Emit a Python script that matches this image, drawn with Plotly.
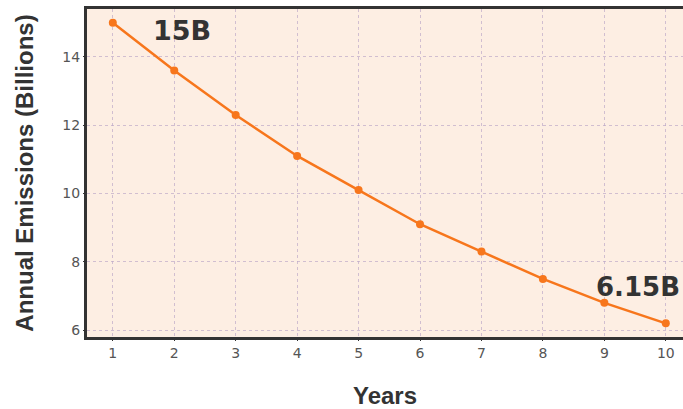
import plotly.graph_objects as go

years = [1, 2, 3, 4, 5, 6, 7, 8, 9, 10]
emissions = [15.0, 13.6, 12.3, 11.1, 10.1, 9.1, 8.3, 7.5, 6.8, 6.2]
x_ticks = [1, 2, 3, 4, 5, 6, 7, 8, 9, 10]
y_ticks = [6, 8, 10, 12, 14]

ORANGE = "#f7761c"
DARK = "#333333"

fig = go.Figure()
fig.add_trace(go.Scatter(
    x=years, y=emissions, mode="lines+markers",
    line=dict(color=ORANGE, width=2.5),
    marker=dict(color=ORANGE, size=8),
    showlegend=False,
))

# value callouts near first and last points
fig.add_annotation(x=years[0], y=emissions[0], text="<b>15B</b>", showarrow=False,
                   xshift=69, yshift=-8,
                   font=dict(family="DejaVu Sans", size=27, color=DARK))
fig.add_annotation(x=years[-1], y=emissions[-1], text="<b>6.15B</b>", showarrow=False,
                   xshift=-28, yshift=36,
                   font=dict(family="DejaVu Sans", size=26, color=DARK))

grid = dict(showgrid=True, gridcolor="rgba(190,170,200,0.7)", gridwidth=1,
            griddash="dot", zeroline=False)
fig.update_layout(
    width=683, height=409,
    margin=dict(l=87, r=0, t=9, b=72),
    paper_bgcolor="white",
    plot_bgcolor="#fdeee3",
    font=dict(family="DejaVu Sans", color="#555555", size=14),
    xaxis=dict(
        range=[0.58, 10.28], tickvals=x_ticks, **grid,
        showline=True, linecolor=DARK, linewidth=3, mirror=True,
        ticks="outside", ticklen=1, tickcolor=DARK,
        title=dict(text="<b>Years</b>", standoff=32,
                   font=dict(family="Liberation Sans", size=24, color=DARK)),
    ),
    yaxis=dict(
        range=[5.8, 15.4], tickvals=y_ticks, **grid,
        showline=True, linecolor=DARK, linewidth=3,
        ticks="outside", ticklen=1, tickcolor=DARK,
        title=dict(text="<b>Annual Emissions (Billions)</b>", standoff=22,
                   font=dict(family="Liberation Sans", size=24, color=DARK)),
    ),
)

fig.write_html("out.html", config={"displayModeBar": False},
               post_script="document.body.style.margin='0';")
